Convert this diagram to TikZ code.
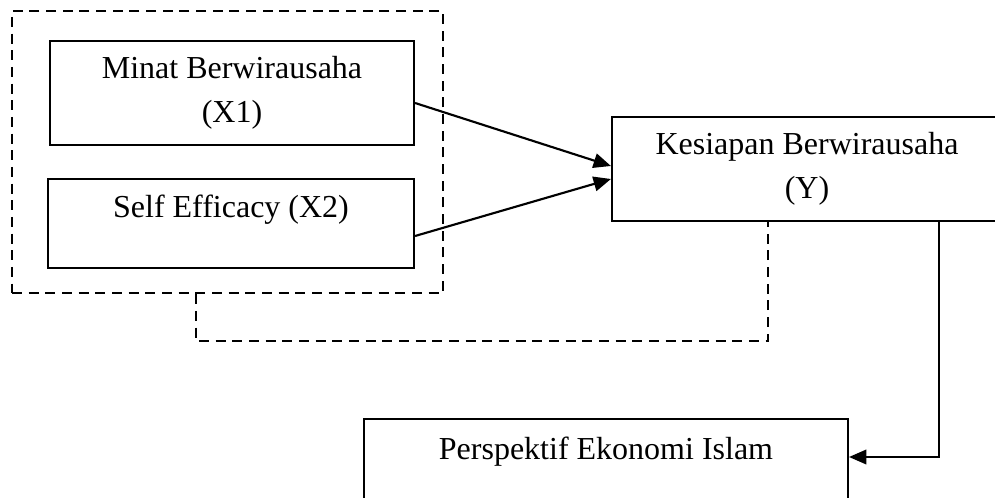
\documentclass[tikz,border=0pt]{standalone}
\usepackage{fontspec}
\setmainfont{Liberation Serif}
\usetikzlibrary{arrows.meta}

\begin{document}
\begin{tikzpicture}[x=0.75pt,y=-0.75pt,
    kotak/.style={draw,line width=1.6pt,align=center,
      font=\fontsize{24}{33}\selectfont},
    panah/.style={line width=1.6pt,-{Triangle[length=13pt,width=11pt]}},
    putus/.style={line width=1.8pt,dash pattern=on 7.5pt off 5pt}]
    \path[use as bounding box] (0,0) rectangle (995,498);
    \clip (0,0) rectangle (995,498);
    \node[putus,draw,minimum width=323.25pt,minimum height=211.5pt] (grp) at (227.5,152) {};
    \node[kotak,minimum width=273pt,minimum height=78pt] (X1) at (232,93) {Minat Berwirausaha\\(X1)};
    \node[kotak,minimum width=274.5pt,inner ysep=0pt,text height=29.25pt,text depth=37.5pt] (X2) at (231,223.5) {Self Efficacy (X2)};
    \node[kotak,minimum width=292.5pt,minimum height=78pt] (Y) at (807,169) {Kesiapan Berwirausaha\\(Y)};
    \node[kotak,minimum width=363pt,inner ysep=0pt,text height=30pt,text depth=36.75pt] (P) at (606,463.5) {Perspektif Ekonomi Islam};
    \draw[panah] ([yshift=-7.5pt]X1.east) -- ([yshift=2.25pt]Y.west);
    \draw[panah] ([yshift=-9.375pt]X2.east) -- ([yshift=-7.5pt]Y.west);
    \draw[panah,line width=1.3pt] ([xshift=99pt]Y.south) |- ([yshift=4.875pt]P.east);
    \draw[putus] ([xshift=-23.625pt]grp.south) -- ++(0,47) -| ([xshift=-29.25pt]Y.south);
  \end{tikzpicture}
\end{document}
